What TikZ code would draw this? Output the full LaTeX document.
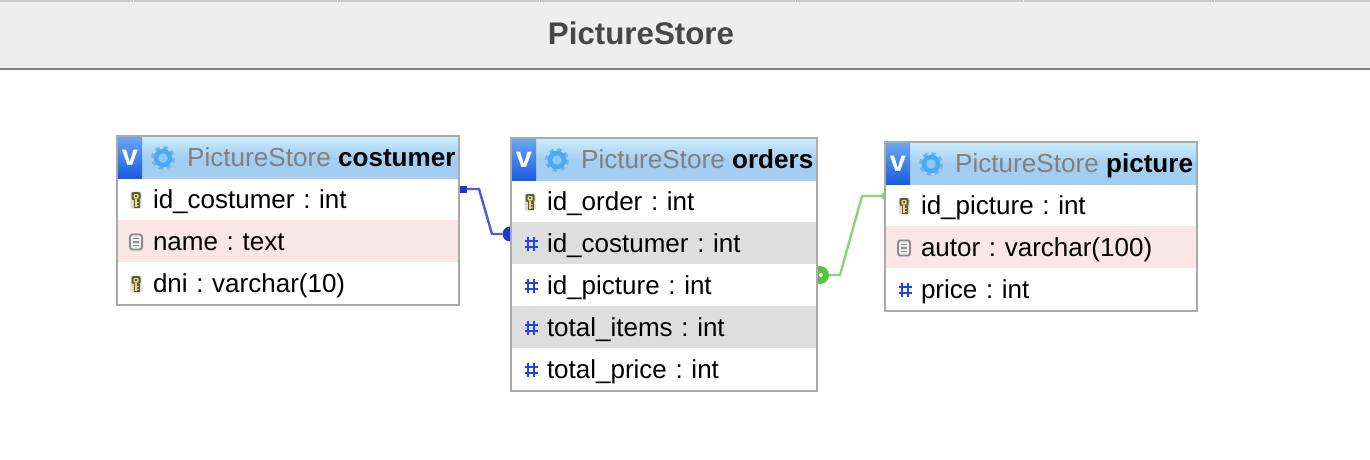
\documentclass[tikz,border=0pt]{standalone}
\usepackage{fontspec}
\setmainfont{Liberation Sans}
\usetikzlibrary{calc}
\frenchspacing

\definecolor{barfill}{HTML}{EEEEEE}
\definecolor{barline}{HTML}{808080}
\definecolor{tabsline}{HTML}{CCCCCC}
\definecolor{boxline}{HTML}{AAAAAA}
\definecolor{headtop}{HTML}{CBEDFB}
\definecolor{headbottom}{HTML}{A4CEF1}
\definecolor{pinkrow}{HTML}{FAE6E6}
\definecolor{grayrow}{HTML}{DEDEDE}
\definecolor{hashblue}{HTML}{2244E6}
\definecolor{linkblue}{HTML}{4A5FD0}
\definecolor{dotblue}{HTML}{2238CC}
\definecolor{linkgreen}{HTML}{84D874}
\definecolor{dotgreen}{HTML}{55C63C}
\definecolor{gearblue}{HTML}{4FA8F2}
\definecolor{gearinner}{HTML}{8CC8F5}
\definecolor{vtop}{HTML}{6AA6F0}
\definecolor{vbottom}{HTML}{1A5CE0}
\definecolor{keyyellow}{HTML}{E6DC6E}
\definecolor{keydark}{HTML}{5E5A3C}

\tikzset{
	tablebox/.style={draw=boxline,line width=2pt,fill=white,inner sep=0pt},
	tablehead/.style={inner sep=0pt,minimum height=41pt,top color=headtop,bottom color=headbottom,middle color=headbottom},
	tablev/.style={inner sep=0pt,minimum width=24pt,minimum height=41pt,top color=vtop,bottom color=vbottom,text=white,font=\fontsize{29}{30}\selectfont\bfseries},
	tabletitle/.style={anchor=base west,inner sep=0pt,font=\fontsize{26.1}{30}\selectfont},
	tablerow/.style={inner xsep=35pt,inner ysep=0pt,minimum height=42pt,text height=24pt,text depth=6pt,align=left,font=\fontsize{26}{30}\selectfont},
	bluelink/.style={draw=linkblue,line width=2.4pt,line join=round},
	greenlink/.style={draw=linkgreen,line width=2.4pt,line join=round},
	keyicon/.pic={
		\fill[black!15,rounded corners=2pt] (-5.5,-8.5) rectangle (5.5,8.5);
		\fill[keydark,rounded corners=2pt] (-4.5,-8) rectangle (4.5,0);
		\fill[keydark] (-2.5,0) rectangle (3.5,8);
		\fill[keyyellow,rounded corners=1pt] (-2.5,-6) rectangle (2.5,-1.5);
		\fill[keydark] (-1,-4.6) rectangle (1,-3.2);
		\fill[keyyellow] (-1,-1.5) rectangle (0.8,7);
		\fill[keyyellow] (0.8,2) rectangle (2.6,3.2) (0.8,5) rectangle (2.6,6.2);
	},
	noteicon/.pic={
		\fill[black!12,rounded corners=3pt] (-7.5,-9) rectangle (7.5,9);
		\draw[black!45,fill=black!6,line width=1.8pt,rounded corners=2.5pt] (-6,-7.5) rectangle (6,7.5);
		\draw[black!45,line width=1.3pt] (-3,-3.5) -- (3,-3.5) (-3,0) -- (3,0) (-3,3.5) -- (3,3.5);
	},
	hashicon/.pic={
		\draw[hashblue,line width=2.3pt] (-2.8,-7) -- (-2.8,7) (2.8,-7) -- (2.8,7) (-6.5,-2.8) -- (6.5,-2.8) (-6.5,2.8) -- (6.5,2.8);
	},
	gearicon/.pic={
		\draw[gearblue!85,line width=4pt,dash pattern=on 4pt off 3.854pt] (0,0) circle (10);
		\draw[gearblue,line width=4.5pt,fill=gearinner] (0,0) circle (7);
	}
}

\begin{document}
\begin{tikzpicture}[x=1pt,y=-1pt]
	\useasboundingbox (0,0) rectangle (1370,460);

	\fill[barfill] (0,0) rectangle (1370,68);% Title bar
	\fill[tabsline] (0,0) rectangle (1370,2.5);
	\draw[white,line width=1pt] (133,0) -- (133,2.5) (337,0) -- (337,2.5) (539,0) -- (539,2.5) (795,0) -- (795,2.5) (1023,0) -- (1023,2.5) (1214,0) -- (1214,2.5);
	\fill[barline] (0,68) rectangle (1370,70);
	\node[inner sep=0pt,text=black!72,font=\fontsize{31.3}{36}\selectfont\bfseries] (pagetitle) at (641,33) {PictureStore};

	% links go first, the tables cover half of their dots
	\node[fill=dotblue,inner sep=0pt,minimum size=7pt] (bluestart) at (463,189) {};
	\node[circle,fill=dotblue,inner sep=0pt,minimum size=15pt] (blueend) at (510,234) {};
	\coordinate (bluebendA) at (479,189);
	\coordinate (bluebendB) at (492,234);
	\draw[bluelink] (bluestart) -- (bluebendA) -- (bluebendB) -- (blueend);

	\node[circle,fill=dotgreen,inner sep=0pt,minimum size=18pt] (greenstart) at (820,275) {};
	\node[circle,fill=white,inner sep=0pt,minimum size=4pt] (greenhole) at (821,275) {};
	\node[circle,fill=linkgreen,inner sep=0pt,minimum size=8pt] (greenend) at (885,196) {};
	\coordinate (greenbendA) at (840,275);
	\coordinate (greenbendB) at (862,196);
	\draw[greenlink] (greenstart) -- (greenbendA) -- (greenbendB) -- (greenend);

	% costumer
	\node[tablebox,minimum width=342pt,minimum height=169pt] (costumer) at (288,220) {};
	\node[tablehead,minimum width=340pt] (costumerhead) at (288,157.5) {};
	\node[tablev] (costumerv) at (130,157.5) {v};
	\pic at (163,158) {gearicon};
	\node[tabletitle] (costumertitle) at (187,166) {\textcolor{black!50}{PictureStore} \textbf{costumer}};
	\node[tablerow,text width=270pt] (costumerid) at (288,199) {id\_costumer : int};
	\node[tablerow,text width=270pt,fill=pinkrow] (costumername) at (288,241) {name : text};
	\node[tablerow,text width=270pt] (costumerdni) at (288,283) {dni : varchar(10)};
	\pic at (136,200) {keyicon};
	\pic at (136,242) {noteicon};
	\pic at (136,284) {keyicon};

	% orders
	\node[tablebox,minimum width=306pt,minimum height=253pt] (orders) at (664,264) {};
	\node[tablehead,minimum width=304pt] (ordershead) at (664,159.5) {};
	\node[tablev] (ordersv) at (524,159.5) {v};
	\pic at (557,160) {gearicon};
	\node[tabletitle] (orderstitle) at (581,168) {\textcolor{black!50}{PictureStore} \textbf{orders}};
	\node[tablerow,text width=234pt] (ordersid) at (664,201) {id\_order : int};
	\node[tablerow,text width=234pt,fill=grayrow] (orderscostumer) at (664,243) {id\_costumer : int};
	\node[tablerow,text width=234pt] (orderspicture) at (664,285) {id\_picture : int};
	\node[tablerow,text width=234pt,fill=grayrow] (ordersitems) at (664,327) {total\_items : int};
	\node[tablerow,text width=234pt] (ordersprice) at (664,369) {total\_price : int};
	\pic at (530,202) {keyicon};
	\pic at (531,244) {hashicon};
	\pic at (531,286) {hashicon};
	\pic at (531,328) {hashicon};
	\pic at (531,370) {hashicon};

	% picture
	\node[tablebox,minimum width=312pt,minimum height=169pt] (picture) at (1041,226) {};
	\node[tablehead,minimum width=310pt] (picturehead) at (1041,163.5) {};
	\node[tablev] (picturev) at (898,163.5) {v};
	\pic at (931,164) {gearicon};
	\node[tabletitle] (picturetitle) at (955,172) {\textcolor{black!50}{PictureStore} \textbf{picture}};
	\node[tablerow,text width=240pt] (pictureid) at (1041,205) {id\_picture : int};
	\node[tablerow,text width=240pt,fill=pinkrow] (pictureautor) at (1041,247) {autor : varchar(100)};
	\node[tablerow,text width=240pt] (pictureprice) at (1041,289) {price : int};
	\pic at (904,206) {keyicon};
	\pic at (904,248) {noteicon};
	\pic at (905,290) {hashicon};
\end{tikzpicture}
\end{document}
